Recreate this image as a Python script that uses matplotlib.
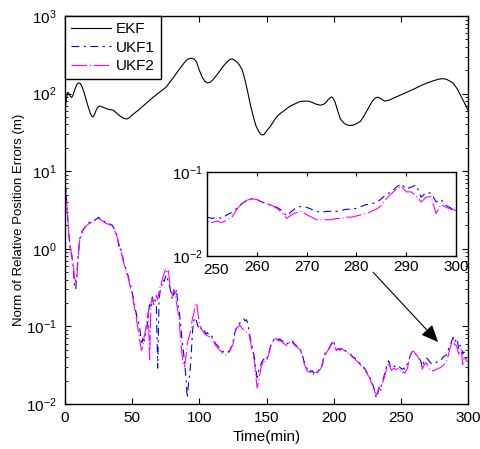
import numpy as np
import matplotlib
matplotlib.use("Agg")
import matplotlib.pyplot as plt
from matplotlib.ticker import LogLocator, NullFormatter, NullLocator, FixedLocator, FixedFormatter

plt.rcParams['font.family'] = ['Liberation Sans', 'DejaVu Sans']
plt.rcParams['mathtext.fontset'] = 'custom'
plt.rcParams['mathtext.rm'] = 'Liberation Sans'
plt.rcParams['mathtext.it'] = 'Liberation Sans:italic'
plt.rcParams['mathtext.default'] = 'regular'

# ---------------- data ----------------
ekf_t = [0, 1, 2, 3, 4, 5, 6, 7, 8, 9, 10, 11, 12, 13, 14, 15, 16, 17, 18, 19,
         20, 21, 22, 23, 24, 25, 26, 28, 30, 32, 34, 36, 38, 40, 42, 44, 46, 48, 50,
         55, 60, 65, 70, 75, 80, 85, 88, 90, 92, 94, 96, 98, 100, 102, 104, 106,
         108, 110, 112, 114, 116, 118, 120, 122, 124, 126, 128, 130, 132, 134, 136,
         138, 140, 142, 144, 146, 148, 150, 153, 156, 158, 160, 163, 166, 169, 172,
         175, 178, 181, 184, 187, 190, 192, 194, 196, 198, 199, 201, 203, 205, 208,
         211, 214, 217, 220, 223, 226, 229, 231, 233, 235, 238, 241, 245, 250, 255,
         260, 265, 270, 274, 278, 281, 284, 287, 289, 292, 295, 298, 300]
ekf_v = [58, 85, 104, 100, 92, 89, 96, 108, 122, 132, 137, 137, 130, 118, 106, 92, 80, 70, 62, 55,
         51, 50, 54, 60, 65, 68, 69, 67, 65, 63, 62, 61, 57, 53, 50, 48, 47, 49, 53,
         62, 74, 88, 103, 120, 155, 205, 240, 265, 280, 286, 280, 255, 200, 165, 145, 137,
         140, 150, 165, 183, 205, 228, 248, 270, 281, 272, 255, 232, 200, 150, 105,
         72, 52, 39, 33, 29.5, 29.5, 33, 38, 46, 51, 55, 60, 66, 71, 75,
         79, 80, 80, 77, 73, 71, 72, 76, 84, 90, 90, 78, 60, 47, 41,
         39, 39, 41, 44, 53, 66, 81, 88, 90, 86, 80, 82, 88, 96, 105,
         115, 127, 138, 146, 153, 156, 153, 143, 136, 115, 91, 72, 61]

ukf_t = np.arange(0, 301)
ukf1 = [8.4, 4.6, 2.6, 1.45, 0.98, 0.82, 0.6, 0.34, 0.30, 0.52,
        0.92, 1.35, 1.5, 1.72, 1.8, 1.95, 2.0, 2.1, 2.2, 2.18,
        2.25, 2.3, 2.32, 2.4, 2.45, 2.55, 2.45, 2.42, 2.3, 2.28,
        2.2, 2.17, 2.1, 2.12, 2.05, 2.02, 1.9, 1.78, 1.6, 1.45,
        1.08, 1.12, 0.9, 0.78, 0.62, 0.58, 0.5, 0.45, 0.37, 0.33,
        0.27, 0.23, 0.17, 0.15, 0.12, 0.11, 0.085, 0.058, 0.07, 0.065,
        0.085, 0.095, 0.15, 0.19, 0.17, 0.24, 0.2, 0.22, 0.18, 0.029,
        0.22, 0.3, 0.34, 0.4, 0.38, 0.46, 0.42, 0.38, 0.32, 0.26,
        0.22, 0.28, 0.25, 0.3, 0.19, 0.16, 0.11, 0.07, 0.05, 0.035,
        0.022, 0.012, 0.019, 0.025, 0.045, 0.09, 0.12, 0.13, 0.115, 0.1,
        0.095, 0.1, 0.088, 0.092, 0.085, 0.08, 0.083, 0.078, 0.08, 0.075,
        0.072, 0.066, 0.06, 0.058, 0.055, 0.053, 0.05, 0.048, 0.047, 0.046,
        0.045, 0.046, 0.048, 0.05, 0.056, 0.062, 0.078, 0.09, 0.1, 0.105,
        0.11, 0.115, 0.12, 0.125, 0.118, 0.122, 0.11, 0.088, 0.07, 0.058,
        0.048, 0.04, 0.028, 0.022, 0.026, 0.03, 0.033, 0.036, 0.038, 0.04,
        0.038, 0.042, 0.048, 0.056, 0.062, 0.066, 0.07, 0.072, 0.07, 0.067,
        0.069, 0.066, 0.065, 0.062, 0.06, 0.059, 0.061, 0.063, 0.066, 0.065,
        0.062, 0.059, 0.057, 0.055, 0.054, 0.051, 0.047, 0.041, 0.035, 0.032,
        0.029, 0.027, 0.028, 0.026, 0.027, 0.025, 0.026, 0.027, 0.026, 0.028,
        0.029, 0.03, 0.036, 0.043, 0.046, 0.048, 0.051, 0.054, 0.059, 0.062,
        0.066, 0.056, 0.05, 0.051, 0.052, 0.05, 0.053, 0.051, 0.05, 0.048,
        0.047, 0.046, 0.044, 0.043, 0.041, 0.04, 0.039, 0.037, 0.036, 0.034,
        0.033, 0.031, 0.03, 0.029, 0.027, 0.025, 0.024, 0.022, 0.02, 0.018,
        0.016, 0.013, 0.012, 0.014, 0.017, 0.016, 0.019, 0.021, 0.025, 0.029,
        0.033, 0.036, 0.031, 0.029, 0.03, 0.031, 0.03, 0.03, 0.031, 0.03,
        0.029, 0.028, 0.029, 0.028, 0.031, 0.033, 0.037, 0.042, 0.046, 0.048,
        0.047, 0.044, 0.042, 0.04, 0.038, 0.035, 0.03, 0.034, 0.038, 0.039,
        0.038, 0.036, 0.034, 0.033, 0.034, 0.034, 0.034, 0.035, 0.036, 0.036,
        0.037, 0.039, 0.041, 0.042, 0.043, 0.048, 0.054, 0.058, 0.066, 0.072,
        0.063, 0.066, 0.07, 0.05, 0.057, 0.056, 0.044, 0.047, 0.04, 0.037, 0.035]
ukf2 = [8.0, 4.4, 2.5, 1.4, 1.0, 0.85, 0.65, 0.44, 0.36, 0.48,
        0.85, 1.3, 1.45, 1.7, 1.78, 1.9, 1.98, 2.05, 2.12, 2.15,
        2.2, 2.25, 2.28, 2.35, 2.4, 2.45, 2.4, 2.35, 2.28, 2.22,
        2.15, 2.12, 2.08, 2.06, 2.02, 1.98, 1.85, 1.72, 1.55, 1.38,
        1.2, 1.0, 0.88, 0.74, 0.62, 0.55, 0.48, 0.43, 0.36, 0.3,
        0.26, 0.21, 0.16, 0.13, 0.1, 0.08, 0.06, 0.049, 0.055, 0.075,
        0.09, 0.12, 0.16, 0.037, 0.2, 0.23, 0.19, 0.21, 0.25, 0.22,
        0.28, 0.33, 0.38, 0.44, 0.5, 0.55, 0.48, 0.52, 0.36, 0.28,
        0.25, 0.3, 0.27, 0.2, 0.16, 0.12, 0.07, 0.045, 0.034, 0.03,
        0.04, 0.06, 0.07, 0.08, 0.1, 0.13, 0.15, 0.19, 0.2, 0.15,
        0.11, 0.095, 0.09, 0.085, 0.08, 0.078, 0.076, 0.074, 0.075, 0.072,
        0.068, 0.062, 0.057, 0.055, 0.052, 0.05, 0.048, 0.046, 0.044, 0.043,
        0.043, 0.044, 0.046, 0.049, 0.054, 0.058, 0.072, 0.088, 0.095, 0.1,
        0.105, 0.098, 0.094, 0.09, 0.086, 0.085, 0.08, 0.078, 0.065, 0.05,
        0.045, 0.035, 0.024, 0.016, 0.019, 0.024, 0.03, 0.033, 0.037, 0.035,
        0.036, 0.04, 0.046, 0.054, 0.06, 0.064, 0.068, 0.07, 0.067, 0.065,
        0.066, 0.064, 0.062, 0.06, 0.058, 0.057, 0.06, 0.061, 0.064, 0.062,
        0.06, 0.057, 0.055, 0.054, 0.052, 0.05, 0.045, 0.039, 0.033, 0.03,
        0.027, 0.026, 0.026, 0.025, 0.025, 0.024, 0.025, 0.026, 0.025, 0.027,
        0.028, 0.03, 0.034, 0.041, 0.044, 0.047, 0.05, 0.053, 0.058, 0.06,
        0.064, 0.054, 0.049, 0.05, 0.051, 0.049, 0.052, 0.05, 0.049, 0.047,
        0.046, 0.045, 0.043, 0.042, 0.04, 0.039, 0.038, 0.036, 0.035, 0.033,
        0.032, 0.03, 0.029, 0.028, 0.026, 0.024, 0.023, 0.021, 0.019, 0.017,
        0.015, 0.014, 0.013, 0.015, 0.016, 0.015, 0.018, 0.02, 0.023, 0.027,
        0.03, 0.034, 0.03, 0.027, 0.028, 0.029, 0.028, 0.028, 0.029, 0.028,
        0.026, 0.025, 0.026, 0.025, 0.027, 0.029, 0.036, 0.042, 0.046, 0.048,
        0.047, 0.044, 0.042, 0.04, 0.037, 0.033, 0.028, 0.031, 0.033, 0.034,
        0.031, 0.029, 0.027, 0.027, 0.027, 0.027, 0.028, 0.028, 0.029, 0.029,
        0.03, 0.031, 0.032, 0.034, 0.036, 0.04, 0.048, 0.055, 0.062, 0.068,
        0.058, 0.058, 0.052, 0.044, 0.05, 0.051, 0.032, 0.041, 0.038, 0.036, 0.035]

labels = ['EKF', 'UKF1', 'UKF2']
xticks_main = [0, 50, 100, 150, 200, 250, 300]
xticks_inset = [250, 260, 270, 280, 290, 300]
xticklabels_inset = ['250', '260', '270', '280', '290', '300']
arrow_start = (229.3, 0.50)
arrow_end = (277.7, 0.063)

# ---------------- figure ----------------
W, H = 481, 449
fig = plt.figure(figsize=(W / 100, H / 100), dpi=100)
ax = fig.add_axes([65 / W, 1 - 404 / H, (468 - 65) / W, (404 - 16) / H])

blue_dash = (0, (7, 4, 2, 4))
mag_dash = (0, (14, 2.5, 1, 2.5))
lw = 0.8

ax.plot(ekf_t, ekf_v, color='black', lw=lw, label=labels[0])
ax.plot(ukf_t, ukf1, color='blue', lw=lw, linestyle=blue_dash, label=labels[1])
ax.plot(ukf_t, ukf2, color='magenta', lw=lw, linestyle=mag_dash, label=labels[2])

ax.set_yscale('log')
ax.set_xlim(0, 300)
ax.set_ylim(1e-2, 1e3)
ax.set_xticks(xticks_main)
ax.yaxis.set_major_locator(LogLocator(base=10, numticks=10))
ax.yaxis.set_minor_locator(LogLocator(base=10, subs=np.arange(2, 10), numticks=20))
ax.yaxis.set_minor_formatter(NullFormatter())
ax.tick_params(which='both', direction='in', top=True, right=True, labelsize=11)
ax.tick_params(axis='y', pad=6)
ax.tick_params(axis='x', pad=5)
ax.tick_params(which='major', length=4, width=0.8)
ax.tick_params(which='minor', length=2, width=0.6)
for s in ax.spines.values():
    s.set_linewidth(1.0)
ax.set_xlabel('Time(min)', fontsize=11)
ax.set_ylabel('Norm of Relative Position Errors (m)', fontsize=9.5)
ax.xaxis.set_label_coords(0.5, -0.066)
ax.yaxis.set_label_coords(-0.099, 0.474)

leg = ax.legend(loc='upper left', borderaxespad=0, fancybox=False, framealpha=1,
                edgecolor='black', fontsize=11, handlelength=2.6, handletextpad=0.35,
                borderpad=0.4, labelspacing=0.3)
leg.get_frame().set_linewidth(1.0)

ax.annotate('', xy=arrow_end, xytext=arrow_start,
            arrowprops=dict(arrowstyle='-|>,head_length=0.8,head_width=0.35',
                            color='black', lw=0.8, mutation_scale=13,
                            shrinkA=0, shrinkB=0))

# inset
axi = fig.add_axes([207 / W, 1 - 256 / H, (456 - 207) / W, (256 - 172) / H])
axi.plot(ukf_t, ukf1, color='blue', lw=lw, linestyle=blue_dash)
axi.plot(ukf_t, ukf2, color='magenta', lw=lw, linestyle=mag_dash)
axi.set_yscale('log')
axi.set_xlim(250, 300)
axi.set_ylim(1e-2, 1e-1)
axi.xaxis.set_major_locator(FixedLocator(xticks_inset))
axi.xaxis.set_major_formatter(FixedFormatter([''] + xticklabels_inset[1:]))
axi.yaxis.set_major_locator(FixedLocator([1e-2, 1e-1]))
axi.yaxis.set_minor_locator(NullLocator())
axi.tick_params(which='both', direction='in', top=True, right=True, labelsize=11, pad=3)
axi.tick_params(which='major', length=3, width=0.8)
for s in axi.spines.values():
    s.set_linewidth(1.0)
# first inset x label is drawn nudged right, as in the reference
axi.annotate(xticklabels_inset[0], xy=(xticks_inset[0], 0),
             xycoords=('data', 'axes fraction'), xytext=(6.5, -5),
             textcoords='offset points', ha='center', va='top', fontsize=11)

fig.savefig('out.png', dpi=100)
